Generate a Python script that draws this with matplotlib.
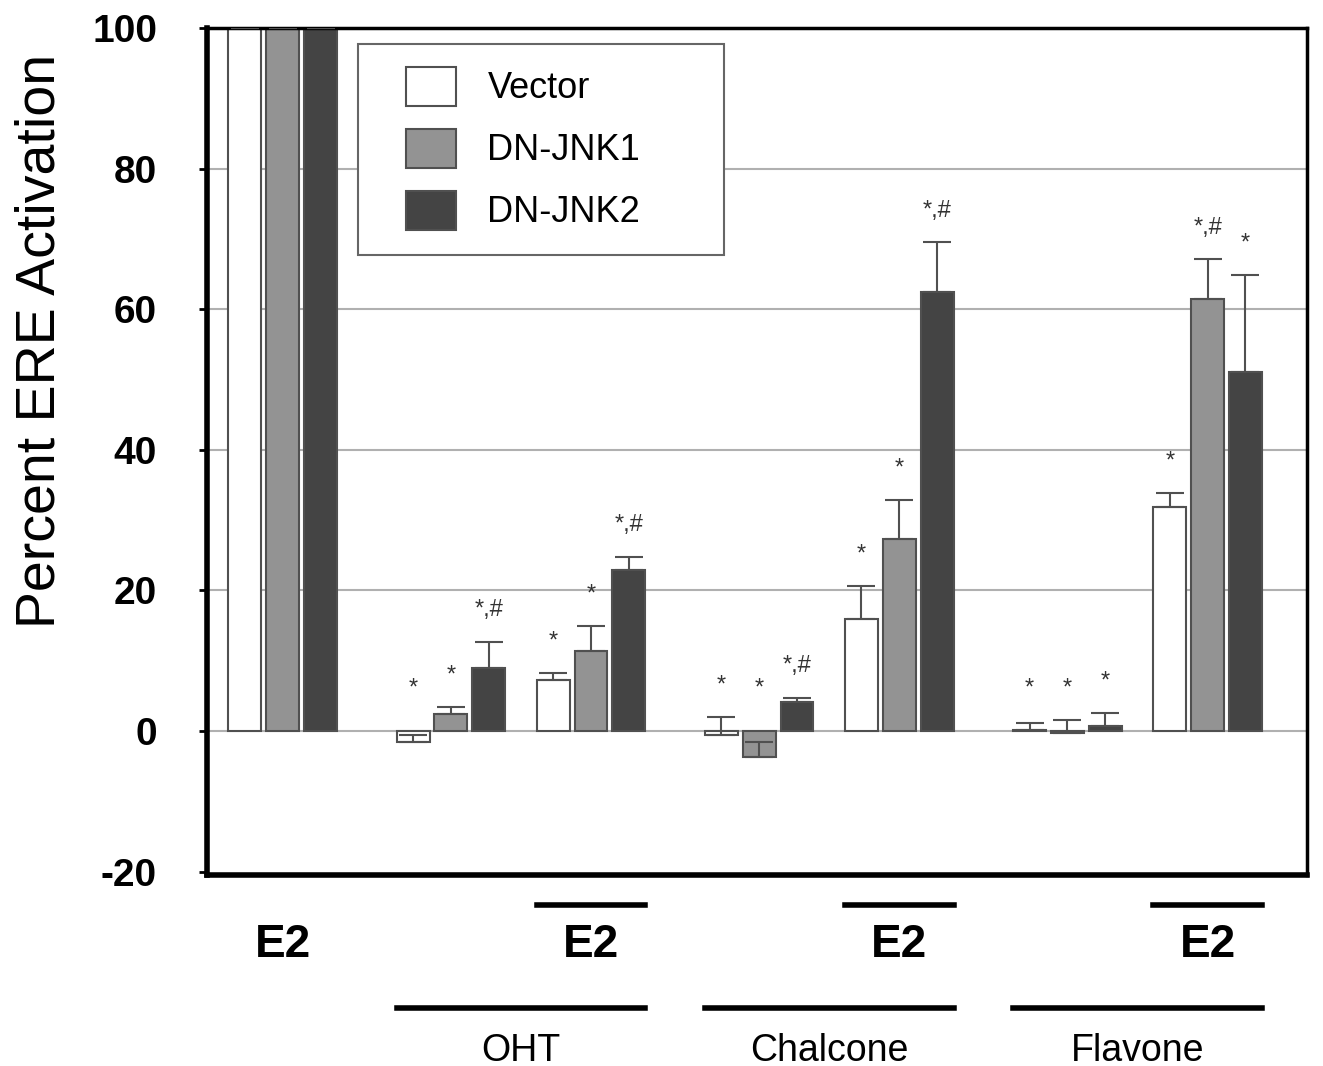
import numpy as np
import matplotlib
matplotlib.use("Agg")
import matplotlib.pyplot as plt
from matplotlib.lines import Line2D
from matplotlib.patches import Rectangle

plt.rcParams['font.family'] = ['Liberation Sans', 'DejaVu Sans']
plt.rcParams['axes.unicode_minus'] = False

# condicoes (7 grupos)
grupos = ['E2', 'OHT', 'OHT+E2', 'Chalcone', 'Chalcone+E2', 'Flavone', 'Flavone+E2']
series = ['Vector', 'DN-JNK1', 'DN-JNK2']

# valores (% ativacao ERE)
vector = [100, -1.6, 7.3, -0.6, 15.9, 0.2, 31.8]
jnk1 = [100, 2.4, 11.4, -3.7, 27.3, -0.3, 61.5]
jnk2 = [100, 9.0, 22.9, 4.2, 62.5, 0.7, 51.0]

# erro (so para cima)
err_vector = [0, 1.0, 0.9, 2.6, 4.7, 1.0, 2.1]
err_jnk1 = [0, 1.0, 3.5, 2.2, 5.6, 1.9, 5.6]
err_jnk2 = [0, 3.7, 1.9, 0.5, 7.0, 1.9, 13.8]

# marcas de significancia
sig_vector = ['', '*', '*', '*', '*', '*', '*']
sig_jnk1 = ['', '*', '*', '*', '*', '*', '*,#']
sig_jnk2 = ['', '*,#', '*,#', '*,#', '*,#', '*', '*']

# rotulos embaixo do eixo
tratamentos = ['OHT', 'Chalcone', 'Flavone']

valores = [vector, jnk1, jnk2]
erros = [err_vector, err_jnk1, err_jnk2]
sigs = [sig_vector, sig_jnk1, sig_jnk2]
cores = ['white', '#939393', '#444444']

# posicoes: pares (sem E2 / com E2) separados por um espaco extra
par = np.array([0, 1, 1, 2, 2, 3, 3])
x = np.arange(len(grupos)) + 0.2 * par
largura = 0.235
passo = 0.27

fig = plt.figure(figsize=(13.23, 10.66), dpi=100)
ax = fig.add_axes([0.1565, 0.179, 0.8315, 0.7948])

for k in range(3):
    xs = x + (k - 1) * passo
    ax.bar(xs, valores[k], largura, color=cores[k], edgecolor='#505050',
           linewidth=1.5, label=series[k], zorder=2)
    ax.errorbar(xs, valores[k], yerr=[np.zeros(7), erros[k]], fmt='none',
                ecolor='#505050', elinewidth=1.5, capsize=10, capthick=1.5, zorder=3)
    for i in range(len(grupos)):
        if sigs[k][i]:
            topo = max(valores[k][i] + erros[k][i], 1.5)
            ax.text(xs[i], topo + 4.5, sigs[k][i], ha='center', va='center',
                    fontsize=17, color='#333333')

ax.set_xlim(-0.54, 7.31)
ax.set_ylim(-20.5, 100)
ax.set_yticks([-20, 0, 20, 40, 60, 80, 100])
ax.set_xticks([])
for lab in ax.get_yticklabels():
    lab.set_fontweight('bold')
ax.tick_params(axis='y', labelsize=28, length=6, width=2, pad=30)

ax.grid(axis='y', color='#b0b0b0', linewidth=1.5, zorder=0)
ax.set_axisbelow(True)
ax.get_ygridlines()[0].set_visible(False)

for lado in ['left', 'bottom']:
    ax.spines[lado].set_linewidth(4)
for lado in ['top', 'right']:
    ax.spines[lado].set_linewidth(2.5)

ax.set_ylabel('Percent ERE Activation', fontsize=40)
ax.yaxis.set_label_coords(-0.1275, 0.63)

# legenda sem moldura + retangulo desenhado a parte (caixa mais larga)
ax.add_patch(Rectangle((0.1373, 0.732), 0.3327, 0.249, transform=ax.transAxes,
                       facecolor='white', edgecolor='#666666', lw=1.5, zorder=4))
leg = ax.legend(loc='upper left', bbox_to_anchor=(0.181, 0.954), borderaxespad=0,
                fontsize=26, frameon=False, borderpad=0,
                handlelength=1.39, handleheight=1.28, labelspacing=0.62,
                handletextpad=0.86)
leg.set_zorder(5)

# rotulos e linhas abaixo do eixo
trans = ax.get_xaxis_transform()
ax.text(x[0], -0.0826, 'E2', transform=trans, ha='center', va='center',
        fontsize=33, fontweight='bold', clip_on=False)
for j, nome in enumerate(tratamentos):
    g0 = 1 + 2 * j
    g1 = g0 + 1
    esq_e2 = x[g1] - passo - largura / 2
    dir_e2 = x[g1] + passo + largura / 2
    ax.add_line(Line2D([esq_e2, dir_e2], [-0.0354, -0.0354], transform=trans,
                       color='black', lw=4, clip_on=False))
    ax.text(x[g1], -0.0826, 'E2', transform=trans, ha='center', va='center',
            fontsize=33, fontweight='bold', clip_on=False)
    esq = x[g0] - passo - largura / 2
    ax.add_line(Line2D([esq, dir_e2], [-0.157, -0.157], transform=trans,
                       color='black', lw=4, clip_on=False))
    ax.text((esq + dir_e2) / 2, -0.207, nome, transform=trans, ha='center',
            va='center', fontsize=27, clip_on=False)

plt.savefig('out.png', dpi=100)
